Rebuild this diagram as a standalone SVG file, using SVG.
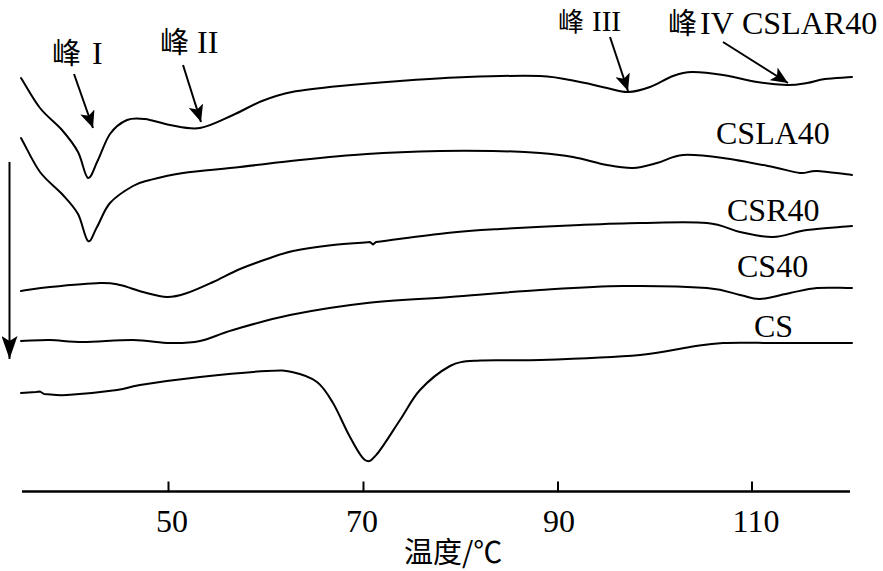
<svg xmlns="http://www.w3.org/2000/svg" width="883" height="571" viewBox="0 0 883 571">
<style>
.c{fill:none;stroke:#000;stroke-width:2;stroke-linejoin:round;stroke-linecap:round}
.ax{fill:none;stroke:#000;stroke-width:2.5}
.tk{fill:none;stroke:#000;stroke-width:2}
.ar{fill:none;stroke:#000;stroke-width:2}
.t{font-family:"Liberation Serif","Noto Sans CJK SC",serif;font-size:32px;fill:#000}
.cj{font-family:"Noto Sans CJK SC","Liberation Serif",sans-serif;font-size:29px;fill:#000}
.n{font-family:"Liberation Serif",serif;font-size:32px;fill:#000}
</style>
<defs>
<marker id="ah" markerUnits="userSpaceOnUse" markerWidth="18" markerHeight="15" refX="17" refY="7.5" orient="auto"><path d="M0,0 L17,7.5 L0,15 L4,7.5 z" fill="#000"/></marker>
<marker id="ahl" markerUnits="userSpaceOnUse" markerWidth="24" markerHeight="16" refX="23" refY="8" orient="auto"><path d="M0,0 L23,8 L0,16 L5,8 z" fill="#000"/></marker>
</defs>
<rect width="883" height="571" fill="#fff"/>

<g id="curve-CSLAR40">
<path class="c" d="M21,78 C27.3,88 33.2,99.3 40,108 S55.7,122.7 62,130 S73.7,144 78,152 S84.7,176.7 88,178 S94.3,167.3 98,160 S105.2,140.7 110,134 S121.2,122.5 127,120 S137.8,118.2 145,119 S160.8,123.5 170,125 S189.5,129.7 200,128 S222.7,119.5 233,115 S252.2,104.8 262,101 S279,94.5 292,92 S322,87.8 340,86 S378.8,82.5 400,81 S443.7,77.8 467,77 S521.2,75.2 540,76 S568.8,80 580,82 S599,86.3 607,88 S620.8,92.2 628,92 S642.5,89.7 650,87 S666,78.5 673,76 S683.7,72.2 692,72 S712.2,73.3 723,75 S746.3,80.3 757,82 S778.7,84.8 787,85 S800.7,84 807,83 S817.5,80 825,79 S843,77.7 852,77"/>
<text class="t" x="742" y="34">CSLAR40</text>
</g>

<g id="curve-CSLA40">
<path class="c" d="M21,138 C27.3,149.3 33.2,162.8 40,172 S55.7,187 62,194 S73.7,206.2 78,214 S84.8,238.8 88,241 S93.3,233.3 97,227 S104,209.8 110,203 S126.3,189.8 133,186 S141.7,182.2 150,180 S168,175.2 183,173 S220.5,169.2 240,167 S278.8,162.2 300,160 S343.7,155.5 367,154 S419,151.5 440,151 S476.3,150.7 493,151 S526.7,152 540,153 S561.8,155 573,157 S597,163.2 607,165 S624.7,168.3 633,168 S648.7,165.2 657,163 S672,155.8 683,155 S708,156 723,158 S760.2,164.5 773,167 S792.7,172.3 800,173 S808.3,170.7 817,171 S840.3,173.7 852,175"/>
<text class="t" x="716" y="144">CSLA40</text>
</g>

<g id="curve-CSR40">
<path class="c" d="M21,291 C30.7,289.7 36.8,288.3 50,287 S88.3,283.3 100,283 S112.8,283.5 120,285 S135.2,290 143,292 S159.7,296.8 167,297 S179.3,295.5 187,293 S204.2,286 213,282 S231,272.8 240,269 S258.2,262 267,259 S282,253.3 293,251 S320.2,246.5 333,245 S357.7,243 370,242 L373,244.5 L376,242 C399.7,239 426.3,235.2 447,233 S477.8,230.3 500,229 S556.7,226 580,225 S618.8,223.3 640,223 S690.3,221.5 707,223 S729,229.7 740,232 S761.8,237.3 773,237 S793.8,231.8 807,230 S837,227.3 852,226"/>
<text class="t" x="727" y="221">CSR40</text>
</g>

<g id="curve-CS40">
<path class="c" d="M21,341 C30.7,340.7 39.7,339.8 50,340 S69.2,342 83,342 S118.5,339.8 133,340 S158.8,342.8 170,343 S189.5,343.2 200,341 S218,334.3 233,330 S267.7,319.5 290,315 S340.3,306 367,303 S421.2,299.2 450,297 S511.2,291.8 540,290 S595.2,286.3 623,286 S687.5,286.5 707,288 S731.2,293.2 740,295 S751.7,299.3 760,299 S780.5,294.8 790,293 S806.7,288.8 817,288 S840.3,288 852,288"/>
<text class="t" x="737" y="277">CS40</text>
</g>

<g id="curve-CS">
<path class="c" d="M21,393 L36,392 L40,391.5 L44,394 C51.7,394.3 54.8,395.7 67,395 S104.8,391.7 117,390 S126.2,387.2 140,385 S178.8,379.3 200,377 S251.7,371.8 267,371 S283.7,370.2 292,372 S310.2,376.8 317,382 S327.5,393.8 333,403 S344.7,427.5 350,437 S360.5,457.2 365,460 S371.2,460.7 377,454 S392.8,430.7 400,420 S411.7,399 420,390 S441.3,370.8 450,366 S465,361.5 480,360.5 S513.3,360.9 540,360 S615,357.2 640,355 S676.2,349 690,347 S708,343.7 723,343 S758.5,343 780,343 S828,343 852,343"/>
<text class="t" x="754" y="337">CS</text>
</g>

<g id="axis">
<line class="ax" x1="22" y1="491.5" x2="850" y2="491.5"/>
<line class="tk" x1="168.5" y1="481.5" x2="168.5" y2="491.5"/>
<line class="tk" x1="363.5" y1="481.5" x2="363.5" y2="491.5"/>
<line class="tk" x1="558" y1="481.5" x2="558" y2="491.5"/>
<line class="tk" x1="752" y1="481.5" x2="752" y2="491.5"/>
<text class="n" x="172" y="532" text-anchor="middle">50</text>
<text class="n" x="362" y="532" text-anchor="middle">70</text>
<text class="n" x="559" y="532" text-anchor="middle">90</text>
<text class="n" x="756" y="532" text-anchor="middle">110</text>
<text class="cj" x="404" y="563">温度/℃</text>
</g>

<g id="labels">
<text class="t" x="52" y="64"><tspan class="cj">峰</tspan><tspan x="92">I</tspan></text>
<text class="t" x="160" y="53"><tspan class="cj">峰</tspan><tspan x="197">II</tspan></text>
<text class="t" x="558" y="31" style="font-size:29px"><tspan class="cj" style="font-size:26px">峰</tspan><tspan x="592">III</tspan></text>
<text class="t" x="668" y="34"><tspan class="cj">峰</tspan><tspan x="700">IV</tspan></text>
</g>

<g id="connectors">
<line class="ar" x1="74" y1="74" x2="93" y2="128" marker-end="url(#ah)"/>
<line class="ar" x1="183" y1="65" x2="201" y2="122" marker-end="url(#ah)"/>
<line class="ar" x1="610" y1="37" x2="628" y2="91" marker-end="url(#ah)"/>
<line class="ar" x1="723" y1="42" x2="788" y2="83" marker-end="url(#ah)"/>
<line class="ar" x1="9.5" y1="162" x2="9.5" y2="359" marker-end="url(#ahl)"/>
</g>
</svg>
